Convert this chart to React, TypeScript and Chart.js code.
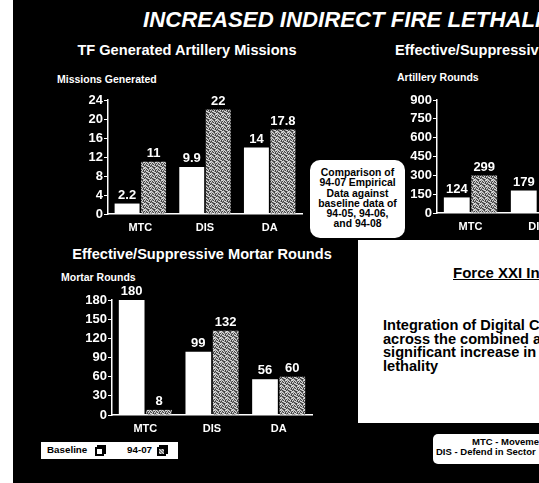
import React, { useEffect, useRef } from "react";
import { Chart, registerables } from "chart.js";

Chart.register(...registerables);

// ---------- DATA ----------
const missionCategories = ["MTC", "DIS", "DA"];
const missionBaseline = [2.2, 9.9, 14];
const mission9407 = [11, 22, 17.8];
const missionMax = 24;
const missionStep = 4;

const artilleryCategories = ["MTC", "DIS", "DA"];
const artilleryBaseline: (number | null)[] = [124, 179, null];
const artillery9407: (number | null)[] = [299, null, null];
const artilleryMax = 900;
const artilleryStep = 150;

const mortarCategories = ["MTC", "DIS", "DA"];
const mortarBaseline = [180, 99, 56];
const mortar9407 = [8, 132, 60];
const mortarMax = 180;
const mortarStep = 30;

const seriesNames = ["Baseline", "94-07"];

const FONT = "Arial, 'Liberation Sans', Helvetica, sans-serif";

// texture tile for the "94-07" bars (style only)
const HATCH_TILE = ["LMDLLM", "DLMMDL", "MDLDLM", "LLMDMD", "DMLLDM", "MDDMLL"];

function makeHatch(): CanvasPattern | string {
  const col: Record<string, string> = { L: "#d8d8d8", M: "#8e8e8e", D: "#404040" };
  const c = document.createElement("canvas");
  c.width = 6;
  c.height = 6;
  const ctx = c.getContext("2d");
  if (!ctx) return "#8c8c8c";
  for (let y = 0; y < 6; y++) {
    for (let x = 0; x < 6; x++) {
      ctx.fillStyle = col[HATCH_TILE[y][x]];
      ctx.fillRect(x, y, 1, 1);
    }
  }
  const p = ctx.createPattern(c, "repeat");
  return p || "#8c8c8c";
}

const valueLabels = {
  id: "valueLabels",
  afterDatasetsDraw(chart: any) {
    const ctx = chart.ctx;
    ctx.save();
    ctx.fillStyle = "#ffffff";
    ctx.font = `bold 13px ${FONT}`;
    ctx.textAlign = "center";
    ctx.textBaseline = "bottom";
    chart.data.datasets.forEach((ds: any, i: number) => {
      const meta = chart.getDatasetMeta(i);
      meta.data.forEach((el: any, j: number) => {
        const v = ds.data[j];
        if (v == null) return;
        ctx.fillText(String(v), el.x, el.y - 2);
      });
    });
    ctx.restore();
  },
};

type Geo = { yw: number; xh: number; pt: number; pr: number };

function BarChart(props: {
  labels: string[];
  base: (number | null)[];
  test: (number | null)[];
  max: number;
  step: number;
  geo: Geo;
  style: React.CSSProperties;
  width: number;
  height: number;
}) {
  const ref = useRef<HTMLCanvasElement | null>(null);
  useEffect(() => {
    if (!ref.current) return;
    const g = props.geo;
    const hatch = makeHatch();
    const chart = new Chart(ref.current, {
      type: "bar",
      data: {
        labels: props.labels,
        datasets: [
          {
            label: seriesNames[0],
            data: props.base,
            backgroundColor: "#ffffff",
            borderWidth: 0,
            barPercentage: 0.94,
            categoryPercentage: 0.82,
          },
          {
            label: seriesNames[1],
            data: props.test,
            backgroundColor: hatch as any,
            borderWidth: 0,
            barPercentage: 0.94,
            categoryPercentage: 0.82,
          },
        ],
      },
      options: {
        animation: false,
        responsive: false,
        maintainAspectRatio: false,
        layout: { padding: { top: g.pt, right: g.pr, left: 0, bottom: 0 } },
        plugins: {
          legend: { display: false },
          tooltip: { enabled: false },
          title: { display: false },
        },
        scales: {
          x: {
            grid: { display: false, drawTicks: false },
            border: { color: "#ffffff", width: 1.5 },
            ticks: {
              color: "#ffffff",
              font: { family: FONT, weight: "bold", size: 11 },
              padding: 7,
            },
            afterFit: (s: any) => {
              s.height = g.xh;
            },
          },
          y: {
            min: 0,
            max: props.max,
            ticks: {
              stepSize: props.step,
              color: "#ffffff",
              font: { family: FONT, weight: "bold", size: 13 },
              padding: 1,
            },
            grid: {
              drawOnChartArea: false,
              drawTicks: true,
              tickLength: 4,
              color: "#ffffff",
              lineWidth: 1,
            },
            border: { color: "#ffffff", width: 1.5 },
            afterFit: (s: any) => {
              s.width = g.yw;
            },
          },
        },
      } as any,
      plugins: [valueLabels],
    });
    return () => chart.destroy();
  }, []);
  return (
    <canvas
      ref={ref}
      width={props.width}
      height={props.height}
      style={{ position: "absolute", width: props.width, height: props.height, ...props.style }}
    />
  );
}

const abs = (o: React.CSSProperties): React.CSSProperties => ({ position: "absolute", whiteSpace: "nowrap", ...o });

function LegendIcon({ hatched }: { hatched?: boolean }) {
  return (
    <div style={abs({ width: 11, height: 11 })}>
      <div style={abs({ left: 2, top: 0, width: 9, height: 9, background: "#000" })} />
      <div
        style={abs({
          left: 0,
          top: 2,
          width: 5,
          height: 5,
          border: "2px solid #000",
          background: hatched ? "repeating-linear-gradient(45deg,#888 0 1px,#ddd 1px 2px)" : "#fff",
        })}
      />
    </div>
  );
}

export default function App() {
  useEffect(() => {
    document.body.style.margin = "0";
    document.body.style.overflow = "hidden";
  }, []);
  const white = "#ffffff";
  return (
    <div
      style={{
        position: "fixed",
        left: 0,
        top: 0,
        width: 539,
        height: 483,
        overflow: "hidden",
        background: "#000",
        fontFamily: FONT,
        fontWeight: "bold",
      }}
    >
      {/* left white strip */}
      <div style={abs({ left: 0, top: 0, width: 13, height: 483, background: "#fff" })} />

      {/* main title */}
      <div style={abs({ left: 143, top: 9, fontSize: 22.2, lineHeight: "22px", fontStyle: "italic", color: white })}>
        INCREASED INDIRECT FIRE LETHALI
      </div>

      <div style={abs({ left: 187, top: 43, transform: "translateX(-50%)", fontSize: 14.6, lineHeight: "14px", color: white })}>
        TF Generated Artillery Missions
      </div>
      <div style={abs({ left: 395, top: 43, fontSize: 14.6, lineHeight: "14px", color: white })}>
        Effective/Suppressiv
      </div>

      <div style={abs({ left: 57, top: 74, fontSize: 10.5, lineHeight: "11px", color: white })}>Missions Generated</div>
      <div style={abs({ left: 397, top: 72, fontSize: 10.5, lineHeight: "11px", color: white })}>Artillery Rounds</div>

      <BarChart
        labels={missionCategories}
        base={missionBaseline}
        test={mission9407}
        max={missionMax}
        step={missionStep}
        geo={{ yw: 28, xh: 24, pt: 22, pr: 4 }}
        width={226}
        height={160}
        style={{ left: 80, top: 78 }}
      />
      <BarChart
        labels={artilleryCategories}
        base={artilleryBaseline}
        test={artillery9407}
        max={artilleryMax}
        step={artilleryStep}
        geo={{ yw: 27, xh: 24, pt: 22, pr: 4 }}
        width={232}
        height={159}
        style={{ left: 410, top: 78 }}
      />

      <div style={abs({ left: 202, top: 247, transform: "translateX(-50%)", fontSize: 14.6, lineHeight: "14px", color: white })}>
        Effective/Suppressive Mortar Rounds
      </div>
      <div style={abs({ left: 61, top: 272, fontSize: 10.5, lineHeight: "11px", color: white })}>Mortar Rounds</div>

      <BarChart
        labels={mortarCategories}
        base={mortarBaseline}
        test={mortar9407}
        max={mortarMax}
        step={mortarStep}
        geo={{ yw: 28, xh: 24, pt: 22, pr: 2 }}
        width={230}
        height={161}
        style={{ left: 84, top: 278 }}
      />

      {/* comparison note */}
      <div
        style={abs({
          left: 310,
          top: 160,
          width: 95,
          height: 78,
          background: "#fff",
          borderRadius: 10,
          color: "#000",
          fontSize: 10.4,
          lineHeight: "10.3px",
          textAlign: "center",
          whiteSpace: "normal",
          paddingTop: 8,
          boxSizing: "border-box",
        })}
      >
        Comparison of
        <br />
        94-07 Empirical
        <br />
        Data against
        <br />
        baseline data of
        <br />
        94-05, 94-06,
        <br />
        and 94-08
      </div>

      {/* Force XXI panel */}
      <div style={abs({ left: 358, top: 240, width: 200, height: 183, background: "#fff", color: "#000" })}>
        <div style={abs({ left: 95, top: 25, fontSize: 15, lineHeight: "15px", textDecoration: "underline" })}>
          Force XXI In
        </div>
        <div style={abs({ left: 25, top: 79, fontSize: 14.6, lineHeight: "13.6px" })}>
          Integration of Digital C
          <br />
          across the combined a
          <br />
          significant increase in
          <br />
          lethality
        </div>
      </div>

      {/* legend box */}
      <div style={abs({ left: 41, top: 442, width: 137, height: 17, background: "#fff", color: "#000", fontSize: 9.8 })}>
        <div style={abs({ left: 6, top: 3, lineHeight: "10px" })}>Baseline</div>
        <div style={abs({ left: 54, top: 3 })}>
          <LegendIcon />
        </div>
        <div style={abs({ left: 86, top: 3, lineHeight: "10px" })}>94-07</div>
        <div style={abs({ left: 116, top: 3 })}>
          <LegendIcon hatched />
        </div>
      </div>

      {/* abbreviations box */}
      <div
        style={abs({
          left: 433,
          top: 434,
          width: 120,
          height: 30,
          background: "#fff",
          color: "#000",
          fontSize: 9.5,
          borderRadius: 5,
        })}
      >
        <div style={abs({ left: 39, top: 3, lineHeight: "10px" })}>MTC - Movemen</div>
        <div style={abs({ left: 3, top: 13, lineHeight: "10px" })}>DIS - Defend in Sector</div>
      </div>
    </div>
  );
}
